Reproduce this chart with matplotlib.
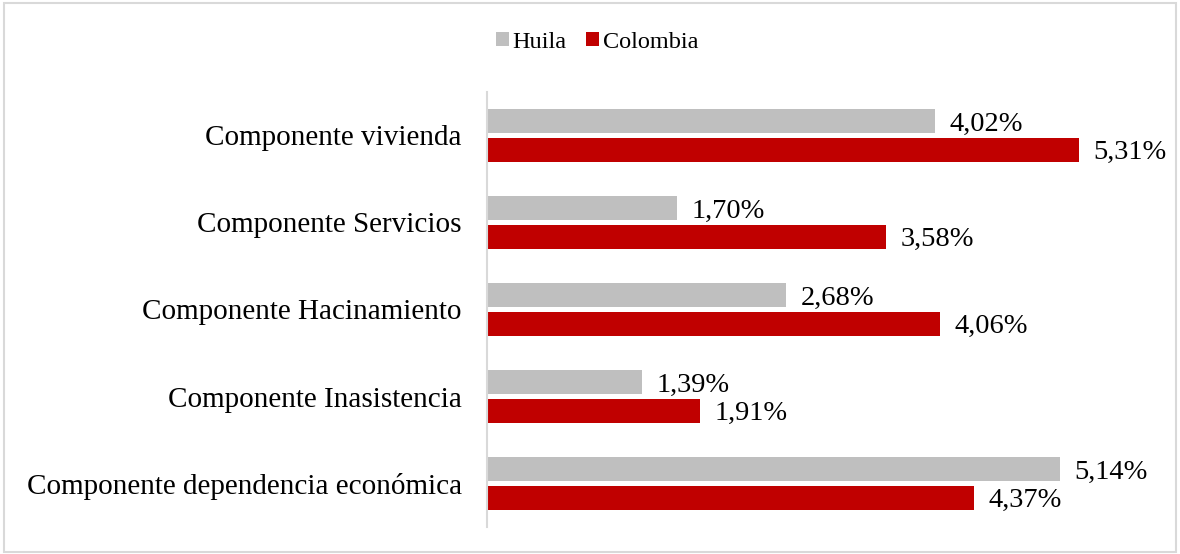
import matplotlib.pyplot as plt
import numpy as np
from matplotlib.patches import Rectangle

categorias = ['Componente vivienda', 'Componente Servicios', 'Componente Hacinamiento',
              'Componente Inasistencia', 'Componente dependencia económica']
huila = [4.02, 1.70, 2.68, 1.39, 5.14]
colombia = [5.31, 3.58, 4.06, 1.91, 4.37]
series = ['Huila', 'Colombia']
colores = ['#bfbfbf', '#c00000']

plt.rcParams['font.family'] = ['Liberation Serif', 'DejaVu Serif']

fig = plt.figure(figsize=(11.8, 5.54), dpi=100)
ax = fig.add_axes([0.4127, 0.0487, 0.567, 0.7853])

y = np.arange(len(categorias))
off = 0.169
alto = 0.27
ax.barh(y - off, huila, height=alto, color=colores[0], label=series[0])
ax.barh(y + off, colombia, height=alto, color=colores[1], label=series[1])

def fmt(v):
    return f'{v:.2f}%'.replace('.', ',')

for i in range(len(categorias)):
    ax.text(huila[i] + 0.13, y[i] - off + 0.04, fmt(huila[i]), va='center', ha='left', fontsize=20.5)
    ax.text(colombia[i] + 0.13, y[i] + off + 0.03, fmt(colombia[i]), va='center', ha='left', fontsize=20.5)

ax.set_xlim(0, 6)
ax.set_ylim(len(categorias) - 0.5, -0.5)
ax.set_yticks(y)
ax.set_yticklabels(categorias, fontsize=21)
ax.tick_params(axis='y', length=0, pad=18)
ax.set_xticks([])
for s in ['top', 'right', 'bottom']:
    ax.spines[s].set_visible(False)
ax.spines['left'].set_color('#d9d9d9')
ax.spines['left'].set_linewidth(1.5)

fig.legend(loc='center', bbox_to_anchor=(0.506, 0.924), ncol=2, frameon=False, fontsize=17.5,
           handlelength=0.55, handleheight=0.5, handletextpad=0.15, columnspacing=0.8)

fig.patches.append(Rectangle((0.003, 0.003), 0.994, 0.992, transform=fig.transFigure,
                             fill=False, edgecolor='#d9d9d9', linewidth=1.5))

fig.savefig('out.png', dpi=100)
